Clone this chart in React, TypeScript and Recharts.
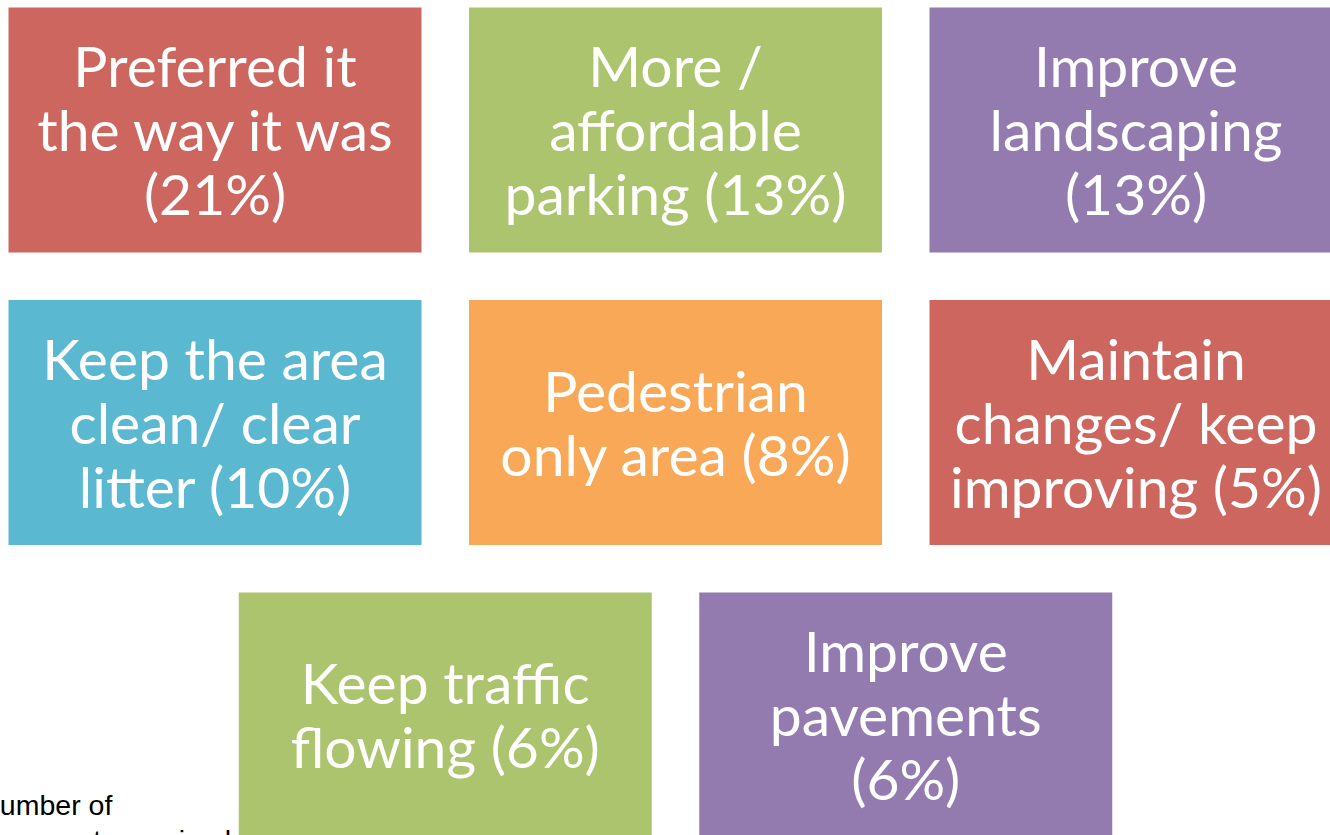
import React from "react";
import { ScatterChart, Scatter, XAxis, YAxis } from "recharts";

// survey themes, shown as tiles in reading order (3 per row, last row centred)
const themes: string[][] = [
  ["Preferred it", "the way it was"],
  ["More /", "affordable", "parking"],
  ["Improve", "landscaping"],
  ["Keep the area", "clean/ clear", "litter"],
  ["Pedestrian", "only area"],
  ["Maintain", "changes/ keep", "improving"],
  ["Keep traffic", "flowing"],
  ["Improve", "pavements"],
];
const shares = [21, 13, 13, 10, 8, 5, 6, 6];
// whether the percentage sits on its own line
const pctOwnLine = [true, false, true, false, false, false, false, true];
const colors = ["#CD665F", "#ABC46D", "#937BB0", "#5BB8D1", "#F8A857", "#CD665F", "#ABC46D", "#937BB0"];

const W = 1330;
const H = 835;
const BOX_W = 413;
const BOX_H = 245;
const LINE_H = 64;

const data = themes.map((lines, i) => {
  const row = Math.floor(i / 3);
  const col = (i % 3) + (row === 2 ? 0.5 : 0);
  const pct = `(${shares[i]}%)`;
  const text = pctOwnLine[i]
    ? [...lines, pct]
    : [...lines.slice(0, -1), `${lines[lines.length - 1]} ${pct}`];
  return { x: col, y: row, lines: text, color: colors[i] };
});

const Tile = (props: any) => {
  const { cx, cy, payload } = props;
  const n = payload.lines.length;
  return (
    <g>
      <rect x={cx - BOX_W / 2} y={cy - BOX_H / 2} width={BOX_W} height={BOX_H} fill={payload.color} />
      {payload.lines.map((l: string, i: number) => (
        <text
          key={i}
          x={cx}
          y={cy + (i - (n - 1) / 2) * LINE_H + 21}
          textAnchor="middle"
          fill="#fff"
          fontFamily="Lato, 'Open Sans', sans-serif"
          fontSize={57}
        >
          {l}
        </text>
      ))}
    </g>
  );
};

export default function App() {
  return (
    <div style={{ position: "absolute", left: 0, top: 0, width: W, height: H, background: "#fff", overflow: "hidden" }}>
      <ScatterChart width={W} height={H} margin={{ top: 0, right: 0, bottom: 0, left: 0 }}>
        <XAxis type="number" dataKey="x" domain={[-215 / 460.5, (W - 215) / 460.5]} allowDataOverflow hide />
        <YAxis type="number" dataKey="y" domain={[-130 / 292.5, (H - 130) / 292.5]} allowDataOverflow reversed hide />
        <Scatter data={data} shape={<Tile />} isAnimationActive={false} />
      </ScatterChart>
      <div
        style={{
          position: "absolute",
          left: -16,
          top: 788,
          fontFamily: "'Liberation Sans', Arial, sans-serif",
          fontSize: 28.5,
          lineHeight: "35px",
          color: "#000",
        }}
      >
        number of
        <br />
        comments received
      </div>
    </div>
  );
}
